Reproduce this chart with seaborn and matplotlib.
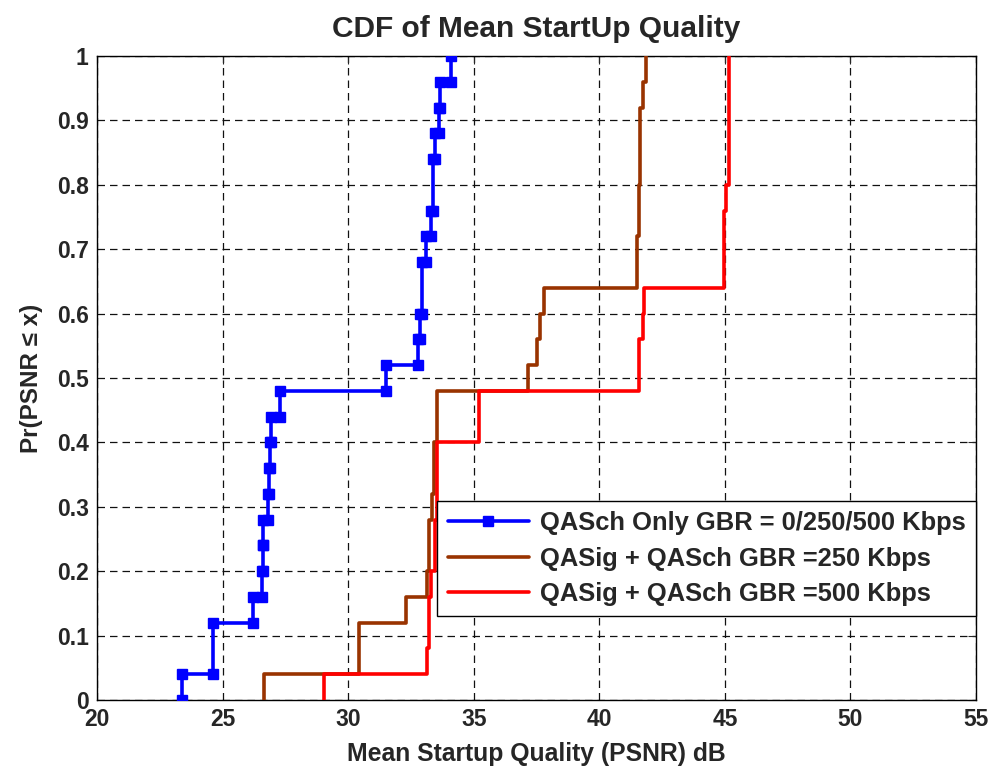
import numpy as np
import pandas as pd
import matplotlib
matplotlib.use("Agg")
import matplotlib.pyplot as plt
import seaborn as sns

# Per-run mean start-up PSNR (dB) for each scheme, 25 runs each
qasch_only = [23.4, 24.6, 24.6, 26.2, 26.56, 26.6, 26.62, 26.8, 26.85, 26.9,
              26.92, 27.3, 31.5, 32.77, 32.85, 32.95, 32.95, 33.1, 33.3, 33.37,
              33.37, 33.45, 33.6, 33.65, 34.08]
qasig_250 = [26.65, 30.45, 30.45, 32.3, 33.13, 33.23, 33.23, 33.33, 33.43, 33.43,
             33.53, 33.53, 37.18, 37.5, 37.65, 37.78, 41.5, 41.5, 41.57, 41.57,
             41.63, 41.63, 41.63, 41.74, 41.87]
qasig_500 = [29.05, 33.13, 33.23, 33.23, 33.3, 33.46, 33.46, 33.53, 33.53, 33.53,
             35.2, 35.2, 41.6, 41.6, 41.74, 41.8, 44.98, 44.98, 44.98, 45.06,
             45.15, 45.15, 45.15, 45.15, 45.15]

series_labels = ["QASch Only GBR = 0/250/500 Kbps",
                 "QASig + QASch GBR =250 Kbps",
                 "QASig + QASch GBR =500 Kbps"]
series_colors = ["#0000FF", "#993300", "#FF0000"]

x_ticks = [20, 25, 30, 35, 40, 45, 50, 55]
y_ticks = [0, 0.1, 0.2, 0.3, 0.4, 0.5, 0.6, 0.7, 0.8, 0.9, 1]
y_tick_labels = ["0", "0.1", "0.2", "0.3", "0.4", "0.5", "0.6", "0.7", "0.8", "0.9", "1"]


def ecdf_corners(samples):
    """Staircase vertices of the empirical CDF: a point at each step corner."""
    vals, counts = np.unique(np.asarray(samples, dtype=float), return_counts=True)
    cdf = np.cumsum(counts) / counts.sum()
    xs, ys = [], []
    prev = 0.0
    for v, f in zip(vals, cdf):
        xs += [v, v]
        ys += [prev, f]
        prev = f
    return pd.DataFrame({"x": xs, "F": ys})


sns.set_style("white")
plt.rcParams["font.family"] = ["Liberation Sans", "DejaVu Sans"]
plt.rcParams["font.weight"] = "bold"

fig = plt.figure(figsize=(9.94, 7.67), dpi=100)
ax = fig.add_axes([97 / 994, 67 / 767, 879 / 994, 644 / 767])

for samples, label, color in zip([qasch_only, qasig_250, qasig_500], series_labels, series_colors):
    df = ecdf_corners(samples)
    if color == "#0000FF":
        sns.lineplot(data=df, x="x", y="F", sort=False, estimator=None, ax=ax,
                     color=color, linewidth=2.6, marker="s", markersize=7.5,
                     markerfacecolor=color, markeredgecolor=color,
                     markeredgewidth=1.0, label=label, zorder=3)
    else:
        sns.lineplot(data=df, x="x", y="F", sort=False, estimator=None, ax=ax,
                     color=color, linewidth=2.6, label=label, zorder=3)

ax.set_xlim(20, 55)
ax.set_ylim(0, 1)
ax.set_xticks(x_ticks)
ax.set_xticklabels([str(t) for t in x_ticks])
ax.set_yticks(y_ticks)
ax.set_yticklabels(y_tick_labels)
ax.tick_params(direction="in", length=6, width=0.8, top=True, right=True,
               labelsize=16.5, pad=6)
for lbl in ax.get_xticklabels() + ax.get_yticklabels():
    lbl.set_fontweight("bold")

ax.grid(True, color="#111111", linestyle=(0, (6, 4)), linewidth=0.9)
for side in ["top", "bottom", "left", "right"]:
    ax.spines[side].set_visible(True)
    ax.spines[side].set_color("black")
    ax.spines[side].set_linewidth(1.0)

ax.set_title("CDF of Mean StartUp Quality", fontsize=21.5, fontweight="bold", pad=14)
ax.set_xlabel("Mean Startup Quality (PSNR) dB", fontsize=17.8, fontweight="bold", labelpad=8)
ax.set_ylabel("Pr(PSNR \u2264 x)", fontsize=17.5, fontweight="bold", labelpad=10)

leg = ax.legend(loc="lower right", bbox_to_anchor=(0.9995, 0.13), fontsize=18.4,
                frameon=True, fancybox=False, shadow=False, framealpha=1,
                edgecolor="black", handlelength=3.2, handletextpad=0.4,
                labelspacing=0.45, borderpad=0.4, borderaxespad=0.0)
leg.get_frame().set_linewidth(1.0)
for t in leg.get_texts():
    t.set_fontweight("bold")

fig.savefig("out.png", dpi=100)
